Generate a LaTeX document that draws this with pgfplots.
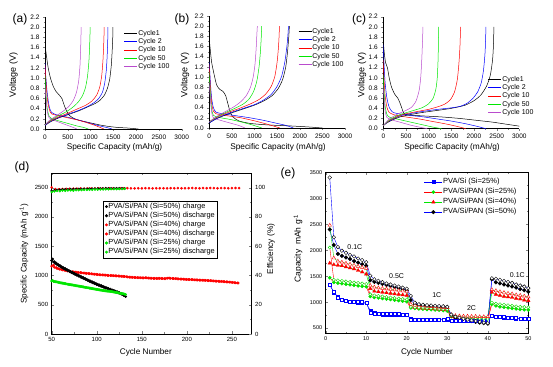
\documentclass[border=0pt]{standalone}
\usepackage{fontspec}
\setmainfont{Liberation Sans}
\usepackage{pgfplots}
\pgfplotsset{compat=1.18}
\definecolor{cpur}{RGB}{185,75,205}
\definecolor{cgrn}{RGB}{0,230,0}
\definecolor{cblu}{RGB}{0,0,255}
\definecolor{cred}{RGB}{255,0,0}
\pgfplotsset{/pgf/number format/assume math mode=true, /pgf/number format/1000 sep={}}
\pgfplotsset{
 vaxis/.style={scale only axis, height=112pt, xmin=0, xmax=3000, ymin=0, ymax=2.2,
   axis x line*=bottom, axis y line*=left, tick align=outside,
   xtick={0,500,1000,1500,2000,2500,3000},
   ytick={0,0.2,0.4,0.6,0.8,1.0,1.2,1.4,1.6,1.8,2.0,2.2},
   minor x tick num=1, minor y tick num=1,
   major tick length=2pt, minor tick length=1.2pt,
   tick label style={font=\fontsize{6.5}{7}\selectfont},
   yticklabel style={/pgf/number format/.cd, fixed, fixed zerofill, precision=1},
   axis line style={line width=0.5pt},
   every axis plot/.append style={line width=0.5pt, smooth, tension=0.4},
   legend image code/.code={\draw[##1] (0pt,0pt) -- (13pt,0pt);},
   legend style={draw=none, fill=none, anchor=north west, font=\fontsize{7}{8}\selectfont,
     inner sep=0pt, row sep=0pt, cells={anchor=west},
     nodes={inner sep=0.6pt, text height=5.5pt, text depth=1.6pt}},
 },
}
\begin{document}
\begin{tikzpicture}
\path[use as bounding box] (0pt,0pt) rectangle (553pt,366pt);
% ---------------- (a)
\begin{axis}[vaxis, width=136.7pt, at={(45pt,237pt)}, legend style={at={(0.578,0.894)}}]
\addplot[black] coordinates {(0,1.65) (30,1.45) (70,1.2) (120,1.0) (180,0.84) (240,0.74) (300,0.68) (370,0.6) (420,0.47) (470,0.36) (530,0.27) (650,0.2) (800,0.16) (1000,0.12) (1200,0.08) (1400,0.05) (1600,0.03) (1800,0.02) (2050,0.0)};
\addlegendentry{Cycle1}
\addplot[cblu] coordinates {(0,1.3) (20,1.0) (50,0.7) (90,0.45) (140,0.33) (250,0.28) (400,0.25) (600,0.21) (800,0.16) (1000,0.11) (1200,0.06) (1350,0.03) (1470,0.0)};
\addlegendentry{Cycle 2}
\addplot[cred] coordinates {(0,1.25) (20,0.95) (50,0.6) (90,0.4) (140,0.3) (300,0.26) (500,0.22) (700,0.18) (900,0.13) (1100,0.07) (1290,0.0)};
\addlegendentry{Cycle 10}
\addplot[cgrn] coordinates {(0,1.05) (20,0.7) (50,0.4) (90,0.25) (150,0.2) (300,0.16) (500,0.11) (700,0.06) (850,0.03) (950,0.0)};
\addlegendentry{Cycle 50}
\addplot[cpur] coordinates {(0,0.85) (20,0.6) (50,0.35) (90,0.22) (200,0.17) (350,0.12) (500,0.07) (620,0.03) (700,0.0)};
\addlegendentry{Cycle 100}
\addplot[black, forget plot] coordinates {(0,0.07) (100,0.13) (250,0.2) (500,0.28) (750,0.36) (950,0.44) (1100,0.5) (1200,0.56) (1300,0.66) (1370,0.8) (1420,0.98) (1455,1.25) (1475,1.55) (1487,1.8) (1492,2.0)};
\addplot[cblu, forget plot] coordinates {(0,0.07) (100,0.14) (250,0.21) (500,0.29) (750,0.37) (950,0.45) (1080,0.52) (1180,0.6) (1260,0.72) (1310,0.9) (1345,1.15) (1365,1.45) (1377,1.75) (1382,2.0)};
\addplot[cred, forget plot] coordinates {(0,0.08) (100,0.15) (250,0.22) (500,0.31) (700,0.39) (900,0.47) (1030,0.55) (1130,0.66) (1200,0.82) (1245,1.05) (1272,1.35) (1290,1.7) (1300,2.0)};
\addplot[cgrn, forget plot] coordinates {(0,0.08) (100,0.16) (250,0.24) (450,0.33) (600,0.42) (720,0.52) (820,0.65) (890,0.82) (935,1.05) (965,1.35) (982,1.7) (992,2.0)};
\addplot[cpur, forget plot] coordinates {(0,0.08) (100,0.17) (250,0.26) (400,0.35) (520,0.44) (620,0.56) (690,0.72) (740,0.95) (768,1.25) (783,1.6) (794,2.0)};
\end{axis}
% ---------------- (b)
\begin{axis}[vaxis, width=135.7pt, at={(209.3pt,238pt)}, legend style={at={(0.654,0.903)}}]
\addplot[black] coordinates {(0,1.75) (20,1.55) (50,1.3) (90,1.12) (160,0.85) (230,0.76) (300,0.72) (360,0.64) (410,0.48) (460,0.32) (520,0.22) (650,0.14) (900,0.09) (1300,0.06) (1800,0.04) (2200,0.02) (2500,0.0)};
\addlegendentry{Cycle1}
\addplot[cblu] coordinates {(0,1.3) (20,0.95) (50,0.6) (90,0.4) (150,0.31) (300,0.28) (600,0.24) (900,0.2) (1200,0.15) (1500,0.09) (1700,0.05) (1858,0.0)};
\addlegendentry{Cycle 2}
\addplot[cred] coordinates {(0,1.25) (20,0.85) (50,0.5) (90,0.33) (150,0.28) (400,0.24) (700,0.2) (1000,0.14) (1300,0.07) (1560,0.0)};
\addlegendentry{Cycle 10}
\addplot[cgrn] coordinates {(0,1.1) (20,0.7) (50,0.38) (90,0.25) (200,0.21) (450,0.17) (700,0.12) (950,0.06) (1160,0.0)};
\addlegendentry{Cycle 50}
\addplot[cpur] coordinates {(0,0.9) (20,0.6) (50,0.32) (90,0.2) (250,0.15) (450,0.1) (650,0.05) (790,0.0)};
\addlegendentry{Cycle 100}
\addplot[black, forget plot] coordinates {(0,0.1) (150,0.18) (400,0.27) (700,0.36) (1000,0.45) (1200,0.53) (1380,0.63) (1520,0.77) (1620,0.95) (1690,1.2) (1730,1.5) (1758,1.8) (1770,2.0)};
\addplot[cblu, forget plot] coordinates {(0,0.1) (150,0.18) (400,0.28) (700,0.37) (1000,0.46) (1200,0.55) (1370,0.66) (1500,0.82) (1600,1.02) (1670,1.3) (1715,1.6) (1740,1.85) (1750,2.0)};
\addplot[cred, forget plot] coordinates {(0,0.12) (150,0.2) (400,0.3) (650,0.38) (900,0.47) (1100,0.56) (1250,0.67) (1370,0.82) (1450,1.02) (1500,1.3) (1530,1.6) (1545,1.85) (1550,2.0)};
\addplot[cgrn, forget plot] coordinates {(0,0.12) (150,0.21) (350,0.3) (550,0.38) (750,0.47) (880,0.57) (980,0.72) (1050,0.92) (1100,1.2) (1130,1.5) (1150,1.8) (1158,2.0)};
\addplot[cpur, forget plot] coordinates {(0,0.12) (150,0.22) (350,0.32) (550,0.42) (700,0.52) (820,0.64) (910,0.8) (970,1.0) (1010,1.25) (1035,1.55) (1052,1.85) (1062,2.0)};
\end{axis}
% ---------------- (c)
\begin{axis}[vaxis, width=136pt, at={(383.3pt,237.3pt)}, legend style={at={(0.77,0.48)}}]
\addplot[black] coordinates {(0,1.72) (20,1.5) (50,1.3) (90,1.2) (130,1.0) (180,0.82) (250,0.68) (320,0.6) (370,0.5) (410,0.4) (450,0.31) (550,0.27) (900,0.25) (1300,0.23) (1700,0.2) (2100,0.16) (2400,0.13) (2700,0.09) (3000,0.05)};
\addlegendentry{Cycle1}
\addplot[cblu] coordinates {(0,1.65) (15,1.3) (40,0.9) (80,0.6) (130,0.42) (200,0.33) (300,0.3) (600,0.26) (900,0.23) (1200,0.19) (1500,0.15) (1800,0.1) (2050,0.05) (2265,0.0)};
\addlegendentry{Cycle 2}
\addplot[cred] coordinates {(0,1.35) (15,1.0) (40,0.65) (80,0.42) (130,0.32) (250,0.27) (500,0.23) (800,0.19) (1100,0.14) (1400,0.09) (1650,0.04) (1820,0.0)};
\addlegendentry{Cycle 10}
\addplot[cgrn] coordinates {(0,1.05) (15,0.75) (40,0.45) (80,0.28) (150,0.22) (350,0.18) (600,0.13) (850,0.08) (1100,0.03) (1285,0.0)};
\addlegendentry{Cycle 50}
\addplot[cpur] coordinates {(0,0.85) (15,0.6) (40,0.35) (80,0.22) (200,0.17) (400,0.12) (600,0.07) (800,0.03) (970,0.0)};
\addlegendentry{Cycle 100}
\addplot[black, forget plot] coordinates {(0,0.07) (150,0.15) (400,0.24) (800,0.31) (1200,0.36) (1500,0.4) (1800,0.46) (2000,0.55) (2150,0.66) (2280,0.84) (2360,1.05) (2410,1.35) (2430,1.65) (2440,2.0)};
\addplot[cblu, forget plot] coordinates {(0,0.06) (150,0.16) (400,0.26) (800,0.33) (1200,0.38) (1500,0.41) (1700,0.44) (1850,0.5) (1980,0.6) (2080,0.72) (2160,0.9) (2210,1.15) (2245,1.5) (2265,2.0)};
\addplot[cred, forget plot] coordinates {(0,0.06) (150,0.17) (400,0.27) (700,0.33) (1000,0.38) (1200,0.43) (1350,0.48) (1480,0.57) (1570,0.72) (1630,0.95) (1665,1.25) (1690,1.6) (1705,2.0)};
\addplot[cgrn, forget plot] coordinates {(0,0.06) (150,0.18) (350,0.27) (600,0.34) (850,0.41) (1000,0.49) (1100,0.6) (1160,0.78) (1190,1.0) (1208,1.35) (1216,1.7) (1220,2.0)};
\addplot[cpur, forget plot] coordinates {(0,0.06) (120,0.18) (300,0.28) (500,0.36) (620,0.42) (720,0.54) (790,0.75) (825,1.0) (848,1.35) (864,1.7) (875,2.0)};
\end{axis}
% ---------------- (d) capacity
\begin{axis}[scale only axis, width=200pt, height=161pt, at={(51.7pt,32pt)},
  xmin=50, xmax=272, ymin=0, ymax=2750, xtick={50,100,150,200,250},
  ytick={0,500,1000,1500,2000,2500}, ytick pos=left,
  minor x tick num=1, minor y tick num=1, major tick length=2.5pt, minor tick length=1.5pt,
  tick label style={font=\fontsize{6}{7}\selectfont}, axis line style={line width=0.5pt},
  only marks]
\addplot[cred, mark=*, mark size=1.2pt] coordinates {(50,1160) (53,1140) (56,1120) (59,1105) (62,1095) (65,1085) (68,1075) (71,1065) (74,1060) (77,1055) (80,1050) (83,1045) (86,1040) (89,1035) (92,1030) (95,1025) (98,1020) (101,1015) (104,1010) (107,1008) (110,1005) (113,1000) (116,998) (119,995) (122,992) (125,990) (128,985) (131,982) (134,975) (137,970) (140,968) (143,965) (146,962) (149,960) (152,958) (155,960) (158,955) (161,952) (164,950) (167,948) (170,950) (173,948) (176,945) (179,955) (182,950) (185,948) (188,945) (191,940) (194,938) (197,935) (200,932) (203,930) (206,928) (209,925) (212,922) (215,920) (218,918) (221,915) (224,912) (227,910) (230,905) (233,902) (236,900) (239,897) (242,893) (245,890) (248,885) (251,880) (254,875) (257,870)};
\addplot[cred, mark=*, mark size=1.2pt] coordinates {(52,1175) (55,1135) (58,1115) (61,1102) (64,1090) (67,1082) (70,1070) (73,1064) (76,1058) (79,1052) (82,1048) (85,1042) (88,1037) (91,1033) (94,1028) (97,1022) (100,1018) (103,1012) (106,1010) (109,1006) (112,1002) (115,999) (118,996) (121,994) (124,991) (127,987) (130,984) (133,978) (136,972) (139,969) (142,966) (145,963) (148,961) (151,959) (154,961) (157,957) (160,953) (163,951) (166,949) (169,951) (172,949) (175,946) (178,952) (181,954) (184,949) (187,946) (190,942) (193,939) (196,936) (199,933) (202,931) (205,929) (208,926) (211,923) (214,921) (217,919) (220,916) (223,913) (226,911) (229,907) (232,903) (235,901) (238,898) (241,895) (244,891) (247,887) (250,882) (253,877) (256,872)};
\addplot[black, mark=*, mark size=1.2pt] coordinates {(50,1255) (52,1230) (54,1205) (56,1185) (58,1165) (60,1145) (62,1128) (64,1112) (66,1096) (68,1080) (70,1064) (72,1048) (74,1033) (76,1018) (78,1003) (80,988) (82,973) (84,958) (86,943) (88,928) (90,914) (92,900) (94,886) (96,872) (98,858) (100,845) (102,832) (104,820) (106,808) (108,796) (110,784) (112,772) (114,760) (116,748) (118,737) (120,726) (122,714) (124,702) (126,690) (128,676) (130,660) (132,640)};
\addplot[black, mark=*, mark size=1.2pt] coordinates {(51,1280) (53,1235) (55,1212) (57,1190) (59,1170) (61,1150) (63,1133) (65,1116) (67,1100) (69,1084) (71,1068) (73,1053) (75,1038) (77,1023) (79,1008) (81,993) (83,978) (85,963) (87,948) (89,933) (91,919) (93,905) (95,891) (97,877) (99,863) (101,850) (103,838) (105,826) (107,813) (109,801) (111,789) (113,777) (115,765) (117,753) (119,742) (121,731) (123,719) (125,707) (127,694) (129,680) (131,664)};
\addplot[cgrn, mark=*, mark size=1.2pt] coordinates {(50,905) (52,900) (54,893) (56,887) (58,880) (60,874) (62,868) (64,862) (66,856) (68,850) (70,845) (72,840) (74,834) (76,828) (78,823) (80,818) (82,812) (84,806) (86,800) (88,795) (90,790) (92,784) (94,778) (96,772) (98,767) (100,762) (102,756) (104,750) (106,745) (108,740) (110,735) (112,733) (114,730) (116,726) (118,720) (120,714) (122,708) (124,702) (126,696) (128,690) (130,684) (132,676)};
\addplot[cgrn, mark=*, mark size=1.2pt] coordinates {(51,915) (53,898) (55,892) (57,885) (59,878) (61,872) (63,866) (65,860) (67,854) (69,848) (71,843) (73,838) (75,832) (77,826) (79,821) (81,816) (83,810) (85,804) (87,798) (89,793) (91,788) (93,782) (95,776) (97,770) (99,765) (101,760) (103,754) (105,748) (107,743) (109,738) (111,735) (113,732) (115,728) (117,723) (119,717) (121,711) (123,705) (125,699) (127,693) (129,687) (131,680)};
\end{axis}
% ---------------- (d) efficiency
\begin{axis}[scale only axis, width=200pt, height=161pt, at={(51.7pt,32pt)},
  xmin=50, xmax=272, ymin=0, ymax=110, axis x line=none, axis y line*=right,
  ytick={0,20,40,60,80,100}, minor y tick num=1, major tick length=2.5pt, minor tick length=1.5pt,
  tick label style={font=\fontsize{6}{7}\selectfont}, axis line style={line width=0.5pt},
  only marks,
  legend image code/.code={\draw[mark repeat=2,mark phase=2,#1] plot coordinates {(0pt,0pt) (8pt,0pt) (16pt,0pt)};},
  legend style={at={(0.2565,0.828)}, anchor=north west, draw=black, fill=white,
    font=\fontsize{7.4}{8}\selectfont, inner xsep=2pt, inner ysep=1.2pt, row sep=0pt, cells={anchor=west},
    nodes={inner sep=0.6pt, text height=5.7pt, text depth=2.2pt}}]
\addlegendimage{black, only marks, mark=*, mark size=1.3pt}
\addlegendentry{PVA/Si/PAN (Si=50\%) charge}
\addlegendimage{black, only marks, mark=*, mark size=1.3pt}
\addlegendentry{PVA/Si/PAN (Si=50\%) discharge}
\addlegendimage{cred, only marks, mark=*, mark size=1.3pt}
\addlegendentry{PVA/Si/PAN (Si=40\%) charge}
\addlegendimage{cred, only marks, mark=*, mark size=1.3pt}
\addlegendentry{PVA/Si/PAN (Si=40\%) discharge}
\addlegendimage{cgrn, only marks, mark=*, mark size=1.3pt}
\addlegendentry{PVA/Si/PAN (Si=25\%) charge}
\addlegendimage{cgrn, only marks, mark=*, mark size=1.3pt}
\addlegendentry{PVA/Si/PAN (Si=25\%) discharge}
\addplot[cred, mark=*, mark size=1.1pt, forget plot] coordinates {(50,100.2) (54,99.0) (58,98.9) (62,99.1) (66,99.2) (70,99.2) (74,99.3) (78,99.3) (82,99.4) (86,99.3) (90,99.4) (94,99.4) (98,99.4) (102,99.5) (106,99.4) (110,99.5) (114,99.5) (118,99.4) (122,99.5) (126,99.5) (130,99.5) (134,99.6) (138,99.5) (142,99.5) (146,99.6) (150,99.5) (154,99.6) (158,99.6) (162,99.5) (166,99.6) (170,99.6) (174,99.6) (178,99.5) (182,99.6) (186,99.6) (190,99.7) (194,99.6) (198,99.6) (202,99.6) (206,99.7) (210,99.6) (214,99.6) (218,99.7) (222,99.6) (226,99.7) (230,99.7) (234,99.6) (238,99.7) (242,99.7) (246,99.6) (250,99.7) (254,99.7) (258,99.7)};
\addplot[black, mark=*, mark size=1.1pt, forget plot] coordinates {(50,97.8) (53,98.2) (56,98.4) (59,98.6) (62,98.7) (65,98.8) (68,98.8) (71,98.9) (74,99.0) (77,99.0) (80,99.1) (83,99.1) (86,99.2) (89,99.2) (92,99.3) (95,99.3) (98,99.3) (101,99.4) (104,99.4) (107,99.4) (110,99.5) (113,99.5) (116,99.5) (119,99.5) (122,99.6) (125,99.6) (128,99.6) (131,99.5)};
\addplot[cgrn, mark=*, mark size=1.1pt, forget plot] coordinates {(50,97.0) (53,97.5) (56,97.8) (59,97.6) (62,98.0) (65,97.9) (68,98.1) (71,98.2) (74,98.0) (77,98.3) (80,98.3) (83,98.4) (86,98.5) (89,98.5) (92,98.6) (95,98.6) (98,98.7) (101,98.7) (104,98.8) (107,98.8) (110,98.9) (113,98.9) (116,99.0) (119,99.0) (122,99.0) (125,99.1) (128,99.1) (131,99.2)};
\end{axis}
% ---------------- (e)
\begin{axis}[scale only axis, width=202.6pt, height=161pt, at={(325.7pt,32.7pt)},
  xmin=0, xmax=50, ymin=400, ymax=3500, xtick={0,10,20,30,40,50},
  ytick={500,1000,1500,2000,2500,3000,3500},
  minor x tick num=1, minor y tick num=1, major tick length=2.5pt, minor tick length=1.5pt,
  tick label style={font=\fontsize{5.5}{6}\selectfont}, axis line style={line width=0.5pt},
  every axis plot/.append style={line width=0.4pt},
  legend image code/.code={\draw[mark repeat=2,mark phase=2,#1] plot coordinates {(0pt,0pt) (9pt,0pt) (18pt,0pt)};},
  legend style={at={(0.485,0.971)}, anchor=north west, draw=none, fill=none,
    font=\fontsize{7.5}{8}\selectfont, inner sep=0pt, row sep=0pt, cells={anchor=west},
    nodes={inner sep=0.6pt, text height=6pt, text depth=2.8pt}}]
\addplot[cblu, mark=square*, mark size=1.5pt, mark options={solid, draw=cblu, fill=cblu}] coordinates {(1,1330) (2,1190) (3,1100) (4,1050) (5,1030) (6,1010) (7,1000) (8,990) (9,985) (10,980) (11,840) (12,790) (13,770) (14,765) (15,765) (16,765) (17,765) (18,760) (19,760) (20,760) (21,680) (22,660) (23,660) (24,665) (25,665) (26,665) (27,665) (28,665) (29,665) (30,670) (31,650) (32,640) (33,640) (34,640) (35,640) (36,640) (37,640) (38,640) (39,640) (40,640) (41,740) (42,720) (43,710) (44,705) (45,700) (46,695) (47,690) (48,685) (49,680) (50,675)};
\addlegendentry{PVA/Si (Si=25\%)}
\addplot[cred, mark=*, mark size=1.6pt, mark options={solid, draw=cgrn, fill=cgrn}] coordinates {(1,1470) (2,1380) (3,1365) (4,1355) (5,1345) (6,1335) (7,1325) (8,1315) (9,1305) (10,1295) (11,1110) (12,1090) (13,1080) (14,1070) (15,1060) (16,1050) (17,1040) (18,1030) (19,1020) (20,1010) (21,890) (22,880) (23,870) (24,865) (25,860) (26,855) (27,850) (28,845) (29,840) (30,830) (31,720) (32,700) (33,690) (34,680) (35,675) (36,670) (37,665) (38,660) (39,660) (40,655) (41,960) (42,930) (43,910) (44,900) (45,890) (46,880) (47,870) (48,860) (49,855) (50,850)};
\addlegendentry{PVA/Si/PAN (Si=25\%)}
\addplot[cgrn, mark=triangle*, mark size=2pt, mark options={solid, draw=cred, fill=cred}] coordinates {(1,1750) (2,1720) (3,1710) (4,1700) (5,1680) (6,1660) (7,1640) (8,1610) (9,1580) (10,1540) (11,1260) (12,1210) (13,1200) (14,1190) (15,1180) (16,1170) (17,1160) (18,1150) (19,1140) (20,1130) (21,920) (22,900) (23,890) (24,885) (25,880) (26,875) (27,870) (28,865) (29,860) (30,850) (31,720) (32,700) (33,695) (34,690) (35,690) (36,685) (37,685) (38,680) (39,680) (40,680) (41,1190) (42,1150) (43,1130) (44,1110) (45,1100) (46,1090) (47,1070) (48,1060) (49,1040) (50,1030)};
\addlegendentry{PVA/Si/PAN (Si=40\%)}
\addplot[cblu, mark=*, mark size=1.8pt, mark options={solid, draw=black, fill=black}] coordinates {(1,2400) (2,2100) (3,1930) (4,1890) (5,1860) (6,1830) (7,1790) (8,1760) (9,1730) (10,1700) (11,1420) (12,1390) (13,1370) (14,1350) (15,1330) (16,1310) (17,1290) (18,1270) (19,1250) (20,1230) (21,1040) (22,960) (23,940) (24,930) (25,920) (26,910) (27,905) (28,900) (29,895) (30,885) (31,740) (32,700) (33,680) (34,665) (35,650) (36,635) (37,620) (38,605) (39,595) (40,585) (41,1440) (42,1380) (43,1360) (44,1340) (45,1320) (46,1300) (47,1280) (48,1250) (49,1230) (50,1200)};
\addlegendentry{PVA/Si/PAN (Si=50\%)}
\addplot[cblu, mark=square*, mark size=1.5pt, mark options={solid, draw=cblu, fill=white}, forget plot] coordinates {(1,1330) (2,1200) (3,1090) (4,1050) (5,1030) (6,1015) (7,1010) (8,1005) (9,1000) (10,995) (11,790) (12,775) (13,770) (14,770) (15,770) (16,770) (17,770) (18,770) (19,765) (20,765) (21,670) (22,665) (23,665) (24,668) (25,668) (26,668) (27,670) (28,670) (29,670) (30,672) (31,645) (32,645) (33,645) (34,645) (35,645) (36,645) (37,645) (38,645) (39,645) (40,645) (41,730) (42,725) (43,718) (44,712) (45,706) (46,700) (47,694) (48,688) (49,682) (50,676)};
\addplot[cred, mark=*, mark size=1.6pt, mark options={solid, draw=cgrn, fill=white}, forget plot] coordinates {(1,2050) (2,1430) (3,1420) (4,1410) (5,1400) (6,1390) (7,1380) (8,1370) (9,1360) (10,1350) (11,1150) (12,1130) (13,1120) (14,1110) (15,1100) (16,1090) (17,1080) (18,1070) (19,1060) (20,1050) (21,910) (22,900) (23,895) (24,890) (25,885) (26,880) (27,875) (28,870) (29,865) (30,860) (31,740) (32,720) (33,710) (34,700) (35,695) (36,690) (37,685) (38,680) (39,680) (40,675) (41,990) (42,970) (43,960) (44,950) (45,940) (46,930) (47,920) (48,910) (49,905) (50,900)};
\addplot[cgrn, mark=triangle*, mark size=2pt, mark options={solid, draw=cred, fill=white}, forget plot] coordinates {(1,2480) (2,1850) (3,1790) (4,1770) (5,1750) (6,1730) (7,1710) (8,1690) (9,1670) (10,1650) (11,1320) (12,1290) (13,1275) (14,1265) (15,1255) (16,1245) (17,1235) (18,1225) (19,1215) (20,1205) (21,960) (22,940) (23,930) (24,925) (25,920) (26,915) (27,910) (28,905) (29,900) (30,895) (31,760) (32,740) (33,735) (34,730) (35,730) (36,725) (37,725) (38,720) (39,720) (40,720) (41,1240) (42,1220) (43,1200) (44,1185) (45,1170) (46,1160) (47,1140) (48,1130) (49,1115) (50,1100)};
\addplot[cblu, mark=*, mark size=1.8pt, mark options={solid, draw=black, fill=white}, forget plot] coordinates {(1,3400) (2,2250) (3,2060) (4,1990) (5,1950) (6,1910) (7,1880) (8,1840) (9,1810) (10,1770) (11,1510) (12,1440) (13,1410) (14,1385) (15,1360) (16,1340) (17,1320) (18,1300) (19,1280) (20,1260) (21,1120) (22,990) (23,960) (24,950) (25,940) (26,935) (27,930) (28,925) (29,920) (30,910) (31,760) (32,720) (33,700) (34,680) (35,665) (36,650) (37,635) (38,620) (39,605) (40,595) (41,1460) (42,1450) (43,1430) (44,1410) (45,1390) (46,1370) (47,1340) (48,1320) (49,1300) (50,1270)};
\node[font=\fontsize{7}{8}\selectfont] at (axis cs:7.2,2069) {0.1C};
\node[font=\fontsize{7}{8}\selectfont] at (axis cs:17.5,1506) {0.5C};
\node[font=\fontsize{7}{8}\selectfont] at (axis cs:27.4,1140) {1C};
\node[font=\fontsize{7}{8}\selectfont] at (axis cs:36.0,885) {2C};
\node[font=\fontsize{7}{8}\selectfont] at (axis cs:47.3,1525) {0.1C};
\end{axis}
% ---------------- free labels
\node[font=\fontsize{12}{14}\selectfont] at (20pt,347pt) {(a)};
\node[font=\fontsize{12}{14}\selectfont] at (182pt,347pt) {(b)};
\node[font=\fontsize{12}{14}\selectfont] at (359pt,347pt) {(c)};
\node[font=\fontsize{9}{10}\selectfont, rotate=90] at (13.5pt,291pt) {Voltage (V)};
\node[font=\fontsize{9}{10}\selectfont, rotate=90] at (185pt,291pt) {Voltage (V)};
\node[font=\fontsize{9}{10}\selectfont, rotate=90] at (362pt,291pt) {Voltage (V)};
\node[font=\fontsize{8.3}{9}\selectfont] at (114.5pt,219pt) {Specific Capacity (mAh/g)};
\node[font=\fontsize{8.3}{9}\selectfont] at (278pt,219pt) {Specific Capacity (mAh/g)};
\node[font=\fontsize{8.3}{9}\selectfont] at (452pt,219pt) {Specific Capacity (mAh/g)};
\node[font=\fontsize{12}{14}\selectfont] at (22pt,199pt) {(d)};
\node[font=\fontsize{12}{14}\selectfont] at (288pt,193pt) {(e)};
\node[font=\fontsize{8.2}{9}\selectfont, rotate=90] at (24pt,112pt) {Specific Capacity (mAh g\textsuperscript{-1})};
\node[font=\fontsize{8.3}{9}\selectfont, rotate=90] at (271pt,117pt) {Efficiency (\%)};
\node[font=\fontsize{8.2}{9}\selectfont] at (145.8pt,14pt) {Cycle Number};
\node[font=\fontsize{8.5}{9}\selectfont, rotate=90] at (298pt,117.5pt) {Capacity\ \ mAh g\textsuperscript{-1}};
\node[font=\fontsize{8.2}{9}\selectfont] at (427pt,14pt) {Cycle Number};
\end{tikzpicture}
\end{document}
